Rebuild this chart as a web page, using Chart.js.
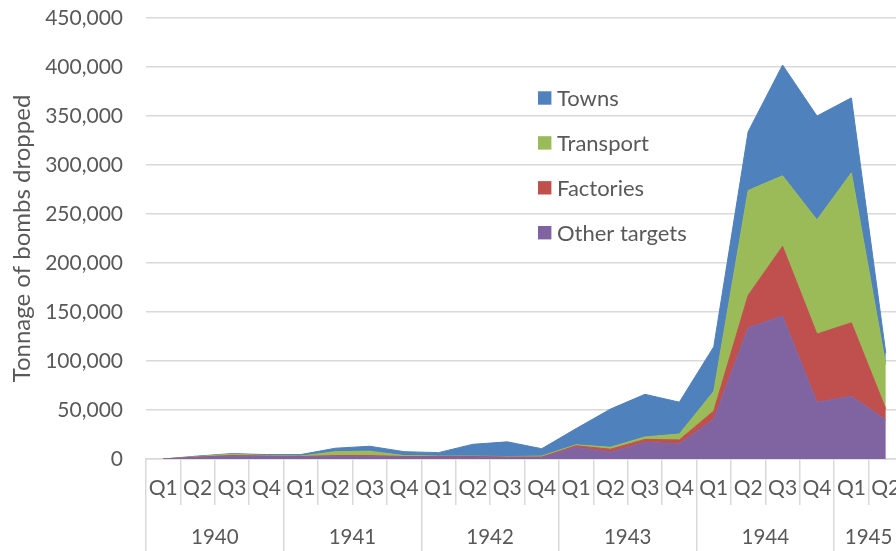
<!DOCTYPE html>
<html><head><meta charset="utf-8">
<script src="https://cdn.jsdelivr.net/npm/chart.js@4/dist/chart.umd.min.js"></script>
<style>
html,body{margin:0;padding:0;overflow:hidden;background:#fff;width:896px;height:551px}
#wrap{position:absolute;left:0;top:0;width:903px;height:551px}
</style>
</head><body><div id="wrap"><canvas id="c"></canvas></div>
<script>
const quarters = ['Q1','Q2','Q3','Q4','Q1','Q2','Q3','Q4','Q1','Q2','Q3','Q4','Q1','Q2','Q3','Q4','Q1','Q2','Q3','Q4','Q1','Q2'];
const years = ['1940','1941','1942','1943','1944','1945'];
const quartersPerYear = [4,4,4,4,4,2];
const yTickValues = [0,50000,100000,150000,200000,250000,300000,350000,400000,450000];

const otherTargets = [0,1500,3000,2500,2000,2500,2500,2000,2000,2000,1500,1500,12000,7000,17000,15500,40500,134000,146000,58000,64000,40000];
const factories    = [0,500,500,500,500,1000,1000,500,500,500,500,500,1500,3000,3000,4000,8500,33000,71000,69500,75000,11000];
const transport    = [0,500,1500,500,500,4000,4500,1000,500,500,500,1000,1000,2000,2500,6000,20000,107000,72000,116500,153000,45000];
const towns        = [0,500,500,1000,1500,3500,5000,4000,3500,12000,15000,7500,16500,39000,43500,32500,45500,60000,113000,106000,76500,12000];

const COLORS = {towns:'#4F81BD', transport:'#9BBB59', factories:'#C0504D', other:'#8064A2'};
const GRID = '#d9d9d9';
const TEXT = '#595959';
const FONT = 'Lato';

Chart.defaults.font.family = FONT;
Chart.defaults.font.size = 21;
Chart.defaults.color = TEXT;

const yearBounds = [0];
const yearCentres = [];
quartersPerYear.forEach((n)=>{ const s = yearBounds[yearBounds.length-1]; yearCentres.push(s + n/2); yearBounds.push(s+n); });

function ds(label, data, color, fill){
  return {label, data, backgroundColor: color, borderColor: color, borderWidth: 1,
    fill, pointRadius: 0, pointHoverRadius: 0, tension: 0};
}

const insideLegend = {
  id: 'insideLegend',
  afterDatasetsDraw(chart){
    const ctx = chart.ctx;
    const items = chart.data.datasets.slice().reverse();
    ctx.save();
    ctx.font = '22px ' + FONT;
    ctx.textBaseline = 'middle';
    ctx.textAlign = 'left';
    items.forEach((d,i)=>{
      const cy = 98 + i*44.9;
      ctx.fillStyle = d.backgroundColor;
      ctx.fillRect(538, cy-6.7, 13.4, 13.4);
      ctx.fillStyle = TEXT;
      ctx.fillText(d.label, 557, cy+1);
    });
    ctx.restore();
  }
};

new Chart(document.getElementById('c'), {
  type: 'line',
  data: {
    labels: quarters,
    datasets: [
      ds('Other targets', otherTargets, COLORS.other, 'origin'),
      ds('Factories', factories, COLORS.factories, '-1'),
      ds('Transport', transport, COLORS.transport, '-1'),
      ds('Towns', towns, COLORS.towns, '-1')
    ]
  },
  plugins: [insideLegend],
  options: {
    responsive: true,
    maintainAspectRatio: false,
    animation: false,
    layout: {padding: {top: 18, right: 0, bottom: 0, left: 0}},
    plugins: {legend: {display: false}, tooltip: {enabled: false}},
    scales: {
      x: {
        type: 'category',
        position: 'bottom',
        offset: true,
        grid: {display: true, drawOnChartArea: false, drawTicks: true, tickLength: 46, color: GRID, lineWidth: 1.5, offset: true},
        border: {display: true, color: GRID, width: 1.5},
        ticks: {autoSkip: false, maxRotation: 0, minRotation: 0, padding: -29, color: TEXT, font: {size: 21}},
        afterFit(scale){ scale.height = 46; }
      },
      xYear: {
        type: 'linear',
        position: 'bottom',
        min: 0, max: 22,
        offset: false,
        grid: {display: true, drawOnChartArea: false, drawTicks: true, tickLength: 46, lineWidth: 1.5,
          color: (c)=> (c.tick && yearBounds.includes(c.tick.value)) ? GRID : 'rgba(0,0,0,0)'},
        border: {display: false},
        afterBuildTicks(scale){
          const vals = Array.from(new Set(yearBounds.concat(yearCentres))).sort((a,b)=>a-b);
          scale.ticks = vals.map(v=>({value: v}));
        },
        ticks: {autoSkip: false, maxRotation: 0, minRotation: 0, padding: -26, color: TEXT, font: {size: 20.5},
          callback: (v)=>{ const i = yearCentres.indexOf(v); return i >= 0 ? years[i] : ''; }},
        afterFit(scale){ scale.height = 46; }
      },
      y: {
        stacked: true,
        min: 0, max: 450000,
        afterBuildTicks(scale){ scale.ticks = yTickValues.map(v=>({value:v})); },
        grid: {color: GRID, lineWidth: 1.5, drawTicks: true, tickLength: 23, tickColor: 'rgba(0,0,0,0)'},
        border: {display: false},
        ticks: {padding: 0, color: TEXT, font: {size: 21}, callback: (v)=> v.toLocaleString('en-US')},
        title: {display: true, text: 'Tonnage of bombs dropped', color: TEXT, font: {size: 24, family: FONT}, padding: {top: 8, bottom: 0}},
        afterFit(scale){ scale.width = 146; }
      }
    }
  }
});
</script>
</body></html>
